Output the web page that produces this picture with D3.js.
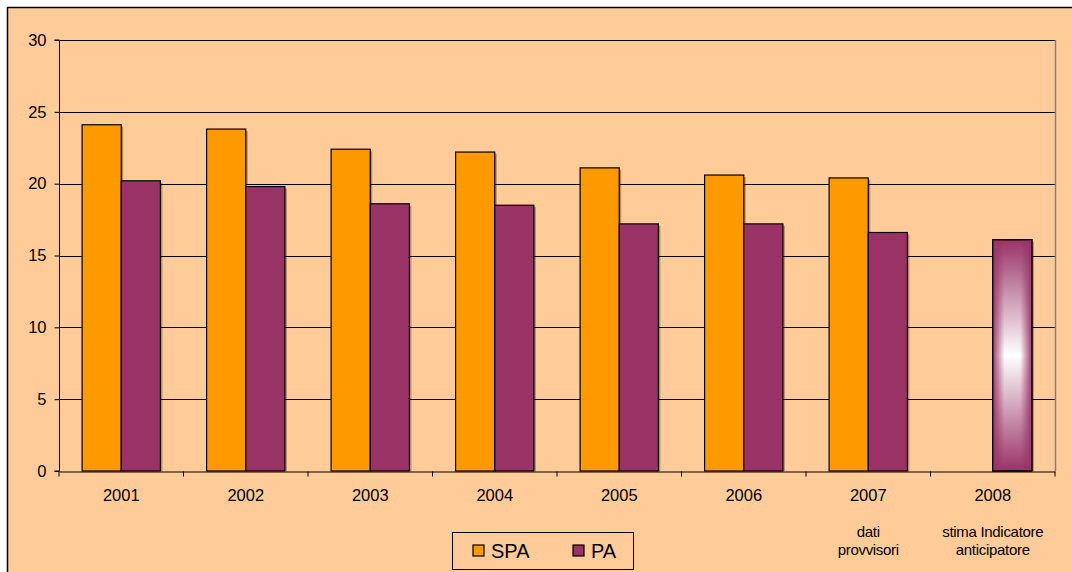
<!DOCTYPE html>
<html>
<head>
<meta charset="utf-8">
<script src="https://cdn.jsdelivr.net/npm/d3@7"></script>
<style>
  body { margin: 0; background: #fff; }
  svg { display: block; font-family: "Liberation Sans", Arial, sans-serif; }
</style>
</head>
<body>
<script>
// data
const years = ['2001', '2002', '2003', '2004', '2005', '2006', '2007', '2008'];
const spa = [24.1, 23.8, 22.4, 22.2, 21.1, 20.6, 20.4, null];
const pa = [20.2, 19.8, 18.6, 18.5, 17.2, 17.2, 16.6, 16.1];
const notes = ['', '', '', '', '', '', 'dati\nprovvisori', 'stima Indicatore\nanticipatore'];
const yTicks = [0, 5, 10, 15, 20, 25, 30];
const seriesNames = ['SPA', 'PA'];
const colors = ['#FF9900', '#993366'];

const width = 1072, height = 572;
const margin = {top: 40, right: 17, bottom: 101, left: 59};

const svg = d3.select('body').append('svg')
  .attr('width', width)
  .attr('height', height);

const defs = svg.append('defs');
const vg = defs.append('linearGradient').attr('id', 'vgrad')
  .attr('x1', 0).attr('y1', 0).attr('x2', 0).attr('y2', 1);
vg.append('stop').attr('offset', '0%').attr('stop-color', '#993366');
vg.append('stop').attr('offset', '50%').attr('stop-color', '#ffffff');
vg.append('stop').attr('offset', '100%').attr('stop-color', '#993366');
const hg = defs.append('linearGradient').attr('id', 'hgrad')
  .attr('x1', 0).attr('y1', 0).attr('x2', 1).attr('y2', 0);
hg.append('stop').attr('offset', '0%').attr('stop-color', '#993366').attr('stop-opacity', 0.95);
hg.append('stop').attr('offset', '30%').attr('stop-color', '#993366').attr('stop-opacity', 0);
hg.append('stop').attr('offset', '70%').attr('stop-color', '#993366').attr('stop-opacity', 0);
hg.append('stop').attr('offset', '100%').attr('stop-color', '#993366').attr('stop-opacity', 0.95);

// chart background with border
svg.append('rect')
  .attr('x', 0).attr('y', 0).attr('width', width).attr('height', height)
  .attr('fill', '#fff');
svg.append('rect')
  .attr('x', 7.5).attr('y', 7.5).attr('width', width + 10).attr('height', height + 10)
  .attr('fill', '#FFCC99').attr('stroke', '#000').attr('stroke-width', 1.5);

const x0 = d3.scaleBand()
  .domain(years)
  .range([margin.left, width - margin.right]);

const x1 = d3.scaleBand()
  .domain(seriesNames)
  .range([0, x0.bandwidth()])
  .paddingOuter(0.59)
  .paddingInner(0);

const y = d3.scaleLinear()
  .domain([0, 30])
  .range([height - margin.bottom, margin.top]);

// gridlines
svg.append('g')
  .selectAll('line')
  .data(yTicks.slice(1))
  .join('line')
  .attr('x1', margin.left).attr('x2', width - margin.right)
  .attr('y1', d => Math.round(y(d)) + 0.5).attr('y2', d => Math.round(y(d)) + 0.5)
  .attr('stroke', '#000').attr('stroke-width', 1);

// plot area right border
svg.append('line')
  .attr('x1', width - margin.right + 0.5).attr('x2', width - margin.right + 0.5)
  .attr('y1', margin.top).attr('y2', height - margin.bottom)
  .attr('stroke', '#808080').attr('stroke-width', 1.5);

// bars
const rows = years.map((yr, i) => ({year: yr, values: [
  {key: 'SPA', v: spa[i], c: colors[0]},
  {key: 'PA', v: pa[i], c: colors[1]}
]}));

const groups = svg.append('g')
  .selectAll('g')
  .data(rows)
  .join('g')
  .attr('transform', d => `translate(${x0(d.year)},0)`);

groups.selectAll('rect.shadow')
  .data(d => d.values.filter(v => v.v != null))
  .join('rect')
  .attr('class', 'shadow')
  .attr('x', d => x1(d.key) + 2)
  .attr('y', d => y(d.v) + 2)
  .attr('width', x1.bandwidth())
  .attr('height', d => y(0) - y(d.v) - 2)
  .attr('fill', '#000').attr('opacity', 0.3);

groups.selectAll('rect.bar')
  .data(d => d.values.filter(v => v.v != null).map(v => ({...v, year: d.year})))
  .join('rect')
  .attr('class', 'bar')
  .attr('x', d => x1(d.key))
  .attr('y', d => y(d.v))
  .attr('width', x1.bandwidth())
  .attr('height', d => y(0) - y(d.v))
  .attr('fill', d => d.year === '2008' ? 'url(#vgrad)' : d.c)
  .attr('stroke', '#000').attr('stroke-width', 1.2);

// rectangular-from-centre look for the estimate bar
groups.filter(d => d.year === '2008')
  .append('rect')
  .attr('x', x1('PA'))
  .attr('y', y(pa[7]))
  .attr('width', x1.bandwidth())
  .attr('height', y(0) - y(pa[7]))
  .attr('fill', 'url(#hgrad)')
  .attr('stroke', '#000').attr('stroke-width', 1.2);

// Y axis
const yAxis = d3.axisLeft(y).tickValues(yTicks).tickSize(5).tickPadding(8);
svg.append('g')
  .attr('transform', `translate(${margin.left + 0.5},0)`)
  .call(yAxis)
  .call(g => g.selectAll('path,line').attr('stroke', '#000'))
  .call(g => g.select('.domain').attr('d', `M-5,${y(30)}H0V${y(0)}H-5`))
  .selectAll('text')
  .attr('font-size', 16.5).attr('fill', '#000')
  .attr('font-family', '"Liberation Sans", Arial, sans-serif');

// X axis
const xAxis = d3.axisBottom(x0).tickSize(0).tickPadding(18);
const xg = svg.append('g')
  .attr('transform', `translate(0,${height - margin.bottom + 0.5})`)
  .call(xAxis);
xg.select('.domain').attr('stroke', '#000');
xg.selectAll('text')
  .attr('font-size', 16.5).attr('fill', '#000')
  .attr('font-family', '"Liberation Sans", Arial, sans-serif');

// category boundary ticks
xg.selectAll('line.bound')
  .data(years.concat(['end']))
  .join('line')
  .attr('class', 'bound')
  .attr('x1', (d, i) => i < years.length ? x0(d) : x0.range()[1])
  .attr('x2', (d, i) => i < years.length ? x0(d) : x0.range()[1])
  .attr('y1', 0).attr('y2', 5)
  .attr('stroke', '#000');

// notes below year labels
years.forEach((yr, i) => {
  if (!notes[i]) return;
  const t = svg.append('text')
    .attr('x', x0(yr) + x0.bandwidth() / 2)
    .attr('y', 537)
    .attr('text-anchor', 'middle')
    .attr('font-size', 15)
    .attr('letter-spacing', -0.3)
    .attr('fill', '#000');
  notes[i].split('\n').forEach((line, j) => {
    t.append('tspan')
      .attr('x', x0(yr) + x0.bandwidth() / 2)
      .attr('dy', j === 0 ? 0 : 18)
      .text(line);
  });
});

// legend
const legend = svg.append('g').attr('transform', 'translate(452,532)');
legend.append('rect')
  .attr('x', 0.5).attr('y', 0.5).attr('width', 181).attr('height', 37)
  .attr('fill', 'none').attr('stroke', '#000').attr('stroke-width', 1);
seriesNames.forEach((s, i) => {
  const gx = 21 + i * 100;
  legend.append('rect')
    .attr('x', gx).attr('y', 13).attr('width', 11).attr('height', 11)
    .attr('fill', colors[i]).attr('stroke', '#000').attr('stroke-width', 1.2);
  legend.append('text')
    .attr('x', gx + 18).attr('y', 26)
    .attr('font-size', 20).attr('fill', '#000')
    .text(s);
});
</script>
</body>
</html>
